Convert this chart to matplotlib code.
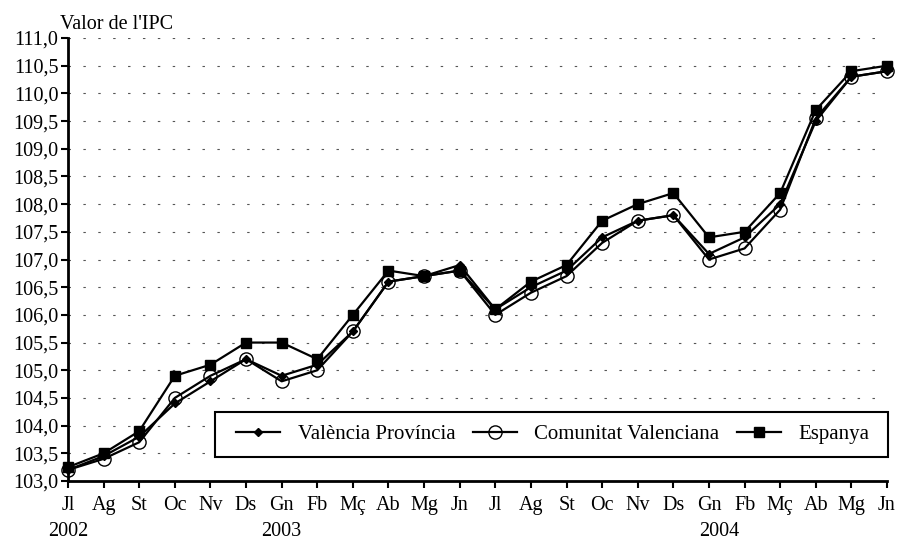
import matplotlib
matplotlib.use("Agg")
import matplotlib.pyplot as plt
from matplotlib.ticker import FuncFormatter, MultipleLocator
from matplotlib.transforms import blended_transform_factory
from matplotlib.patches import Rectangle

months = ["Jl", "Ag", "St", "Oc", "Nv", "Ds", "Gn", "Fb", "Mç", "Ab", "Mg", "Jn",
          "Jl", "Ag", "St", "Oc", "Nv", "Ds", "Gn", "Fb", "Mç", "Ab", "Mg", "Jn"]
year_labels = ["2002", "2003", "2004"]
year_pos = [0, 6, 18.3]

valencia_prov = [103.2, 103.45, 103.8, 104.4, 104.8, 105.2, 104.9, 105.1, 105.7, 106.6, 106.7, 106.9,
                 106.1, 106.5, 106.8, 107.4, 107.7, 107.8, 107.1, 107.4, 108.0, 109.5, 110.3, 110.4]
comunitat = [103.2, 103.4, 103.7, 104.5, 104.9, 105.2, 104.8, 105.0, 105.7, 106.6, 106.7, 106.8,
             106.0, 106.4, 106.7, 107.3, 107.7, 107.8, 107.0, 107.2, 107.9, 109.55, 110.3, 110.4]
espanya = [103.25, 103.5, 103.9, 104.9, 105.1, 105.5, 105.5, 105.2, 106.0, 106.8, 106.7, 106.8,
           106.1, 106.6, 106.9, 107.7, 108.0, 108.2, 107.4, 107.5, 108.2, 109.7, 110.4, 110.5]

plt.rcParams['font.family'] = ['Liberation Serif', 'DejaVu Serif']
FS = 14.5
W, H = 898, 540

fig = plt.figure(figsize=(8.98, 5.40), dpi=100)
ax = fig.add_axes([68/W, 1-481/H, (887-68)/W, (481-38)/H])

x = list(range(len(months)))
ax.plot(x, valencia_prov, color='black', lw=1.6, marker='D', markersize=4,
        markerfacecolor='black', label='València Província', clip_on=False, zorder=4)
ax.plot(x, comunitat, color='black', lw=1.6, marker='o', markersize=9.5,
        markerfacecolor='none', markeredgewidth=1.0, label='Comunitat Valenciana', clip_on=False, zorder=3)
ax.plot(x, espanya, color='black', lw=1.6, marker='s', markersize=7.5,
        markerfacecolor='black', label='Espanya', clip_on=False, zorder=5)

ax.set_xlim(0, len(months)-1)
ax.set_ylim(103.0, 111.0)
ax.yaxis.set_major_locator(MultipleLocator(0.5))
ax.yaxis.set_major_formatter(FuncFormatter(lambda v, p: f"{v:.1f}".replace('.', ',')))
ax.set_xticks(x)
ax.set_xticklabels(months)

ax.grid(axis='y', color='#555555', lw=0.8, linestyle=(0, (2.2, 11.2)))
ax.set_axisbelow(True)
for s in ['top', 'right']:
    ax.spines[s].set_visible(False)
for s in ['left', 'bottom']:
    ax.spines[s].set_linewidth(2.0)
ax.tick_params(axis='both', direction='out', length=5, width=1.5, labelsize=FS, colors='black')
ax.tick_params(axis='x', pad=6)
ax.tick_params(axis='y', pad=2)

trans = blended_transform_factory(ax.transData, ax.transAxes)
for yl, xp in zip(year_labels, year_pos):
    ax.text(xp, (481-536)/443, yl, transform=trans, ha='center', va='baseline', fontsize=FS)

fig.text(60/W, 1-29/H, "Valor de l'IPC", ha='left', va='baseline', fontsize=FS)

# legend frame box
bx0, bx1, by0, by1 = 215, 888, 412, 457
ax.add_patch(Rectangle((bx0/W, 1-by1/H), (bx1-bx0)/W, (by1-by0)/H, transform=fig.transFigure,
                       facecolor='white', edgecolor='black', lw=1.5, zorder=6, clip_on=False))
leg = ax.legend(loc='center', bbox_to_anchor=((bx0+bx1)/2/W + 1.5/W, 1-(by0+by1)/2/H),
                bbox_transform=fig.transFigure, ncol=3, fontsize=15, frameon=False,
                borderaxespad=0, handlelength=2.1, handletextpad=0.85, columnspacing=0.85, borderpad=0.3)
leg.set_zorder(7)

fig.savefig('out.png', dpi=100)
